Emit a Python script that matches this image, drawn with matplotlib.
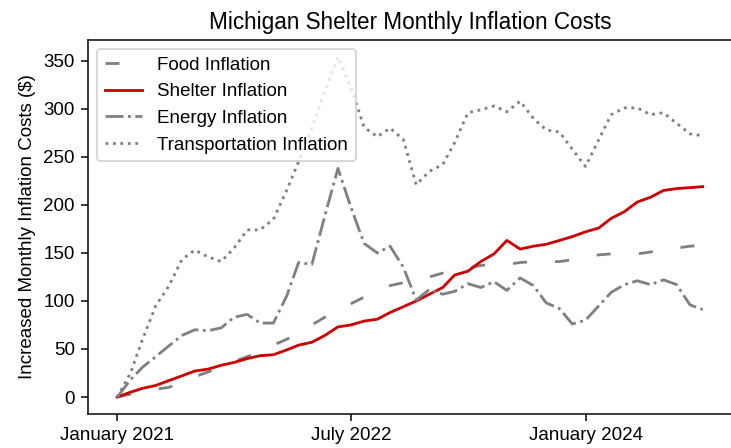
import pandas as pd
import matplotlib
matplotlib.use("Agg")
import matplotlib.pyplot as plt
import matplotlib.dates as mdates

plt.rcParams['font.family'] = ['Liberation Sans', 'DejaVu Sans']

# monthly values, Jan 2021 - Oct 2024
months = pd.date_range("2021-01-01", periods=46, freq="MS")

food = [0, 3, 5, 8, 10, 15, 21, 26, 31, 37, 42, 47, 54, 60, 67, 75, 83, 90,
        97, 104, 110, 116, 119, 121, 125, 129, 131, 134, 137, 138, 138, 140,
        141, 141, 141, 143, 146, 148, 149, 149, 149, 151, 154, 155, 157, 158]

shelter = [0, 5, 9, 12, 17, 22, 27, 29, 33, 36, 40, 43, 44, 49, 54, 57, 64,
           73, 75, 79, 81, 88, 94, 100, 107, 114, 127, 131, 141, 149, 163,
           154, 157, 159, 163, 167, 172, 176, 186, 193, 203, 208, 215, 217,
           218, 219]

energy = [0, 18, 31, 42, 53, 64, 70, 69, 72, 83, 86, 77, 77, 105, 140, 138,
          188, 238, 198, 160, 150, 157, 135, 101, 112, 107, 110, 118, 114,
          120, 111, 124, 116, 98, 92, 76, 80, 95, 109, 117, 121, 117, 122,
          117, 96, 91]

transport = [0, 25, 60, 95, 115, 143, 153, 146, 141, 155, 174, 174, 185, 215,
             245, 280, 318, 354, 323, 281, 271, 280, 268, 221, 235, 242, 265,
             296, 299, 303, 297, 308, 290, 278, 276, 258, 240, 268, 294, 301,
             301, 294, 296, 285, 274, 272]

tick_dates = [months[0], months[18], months[36]]

fig = plt.figure(figsize=(731 / 135, 448 / 135), dpi=135)
ax = fig.add_axes([88 / 731, 34 / 448, 644 / 731, 374 / 448])

ax.plot(months, food, color="gray", linestyle=(0, (5, 10)), label="Food Inflation")
ax.plot(months, shelter, color="#cc0000", label="Shelter Inflation")
ax.plot(months, energy, color="gray", linestyle="-.", label="Energy Inflation")
ax.plot(months, transport, color="gray", linestyle=":", label="Transportation Inflation")

ax.set_xticks(tick_dates)
ax.xaxis.set_major_formatter(mdates.DateFormatter("%B %Y"))
ax.set_ylabel("Increased Monthly Inflation Costs ($)")
ax.set_title("Michigan Shelter Monthly Inflation Costs")
ax.legend(loc="upper left")

fig.savefig("out.png", dpi=135)
